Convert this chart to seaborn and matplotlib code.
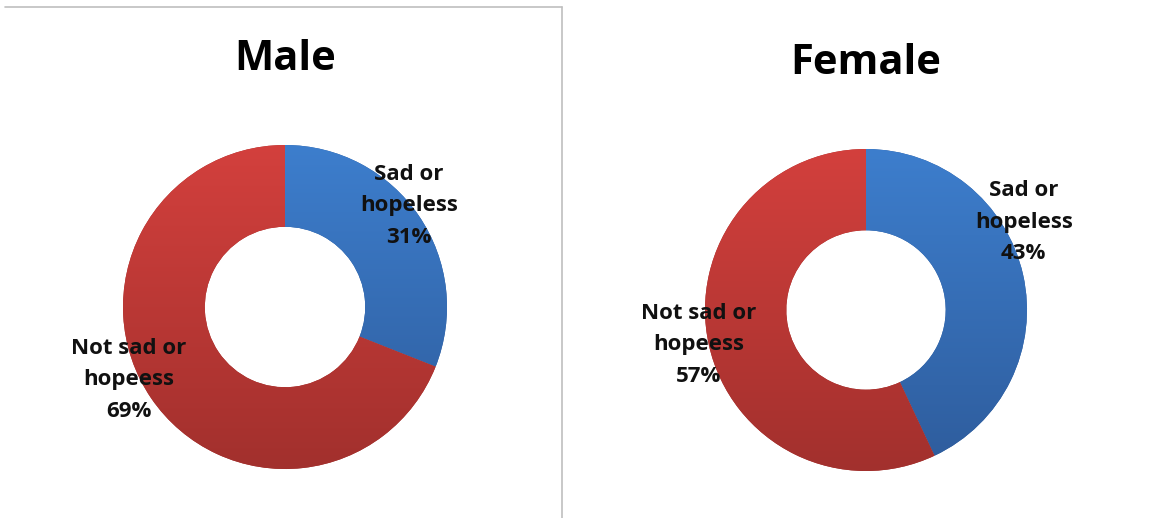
import numpy as np
import matplotlib
matplotlib.use("Agg")
import matplotlib.pyplot as plt
import seaborn as sns
from matplotlib.colors import LinearSegmentedColormap
from matplotlib.lines import Line2D

sns.set_theme(style="white")
plt.rcParams['font.family'] = ['Open Sans', 'DejaVu Sans']

# ---- data ----
groups = ["Male", "Female"]
categories = ["Sad or\nhopeless", "Not sad or\nhopeess"]
male_values = [31, 69]
female_values = [43, 57]
values = [male_values, female_values]

blue_top, blue_bot = "#3D7ECD", "#2E5C9C"
red_top, red_bot = "#D3403D", "#A2302D"

W, H = 1156, 518
fig = plt.figure(figsize=(W / 100, H / 100), dpi=100)
fig.patch.set_facecolor("white")

# layout in pixels: centre x, centre y (from top), radius
layout = [(285, 307, 162), (866, 310, 161)]
title_y = [60, 63]
label_pos = [
    [(0.765, 0.625), (-0.963, -0.45)],
    [(0.98, 0.545), (-1.04, -0.215)],
]

for gi, (name, vals) in enumerate(zip(groups, values)):
    cx, cy, r = layout[gi]
    ax = fig.add_axes([(cx - r) / W, (H - cy - r) / H, 2 * r / W, 2 * r / H])
    wedges, _ = ax.pie(vals, startangle=90, counterclock=False, radius=1.0,
                       colors=[blue_bot, red_bot],
                       wedgeprops=dict(width=0.505, linewidth=0, edgecolor="none"))
    grads = [(blue_top, blue_bot), (red_top, red_bot)]
    for w, (ctop, cbot) in zip(wedges, grads):
        cmap = LinearSegmentedColormap.from_list("g", [cbot, ctop])
        grad = np.linspace(0, 1, 256).reshape(-1, 1)
        im = ax.imshow(grad, cmap=cmap, extent=[-1, 1, -1, 1], origin="lower",
                       aspect="auto", zorder=2, interpolation="bilinear")
        im.set_clip_path(w)
    ax.set_xlim(-1, 1)
    ax.set_ylim(-1, 1)
    ax.set_aspect("auto")
    ax.axis("off")
    for ci, (cat, v) in enumerate(zip(categories, vals)):
        lx, ly = label_pos[gi][ci]
        ax.text(lx, ly, f"{cat}\n{v}%", ha="center", va="center",
                fontsize=16, fontweight="bold", color="#111111",
                linespacing=1.65, zorder=5)
    fig.text(cx / W, 1 - title_y[gi] / H, name, ha="center", va="center",
             fontsize=30, fontweight="bold", color="#000000")

# frame lines
fig.add_artist(Line2D([5 / W, 562 / W], [1 - 7 / H, 1 - 7 / H],
                      transform=fig.transFigure, color="#BFBFBF", lw=1.2))
fig.add_artist(Line2D([562 / W, 562 / W], [1 - 7 / H, 0],
                      transform=fig.transFigure, color="#BFBFBF", lw=1.2))

fig.savefig("out.png", dpi=100, facecolor="white")
